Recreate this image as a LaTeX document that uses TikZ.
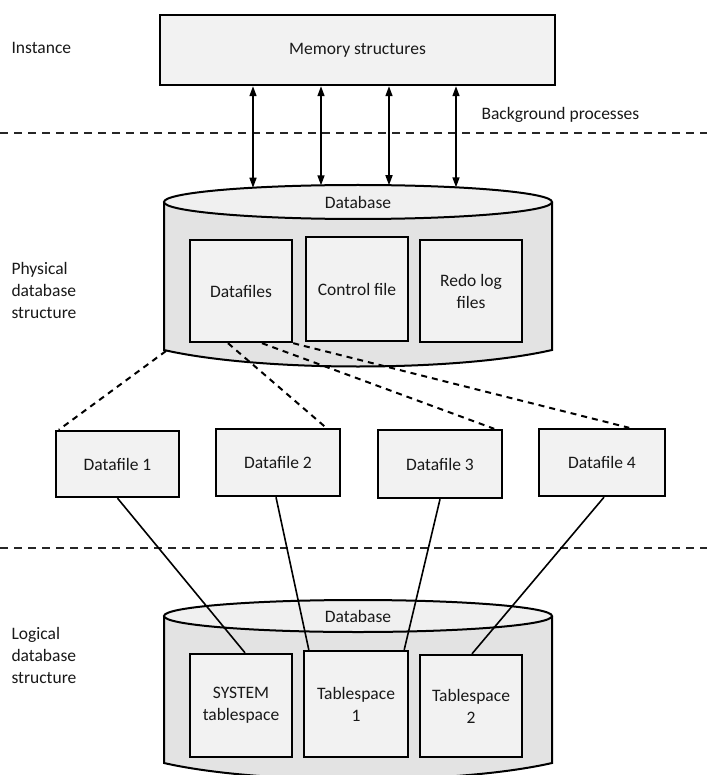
\documentclass[tikz,border=0pt]{standalone}
\usepackage{fontspec}
\setmainfont{Carlito}
\usetikzlibrary{arrows.meta,calc}
\begin{document}
\begin{tikzpicture}[x=1pt,y=-1pt,
  every node/.style={font=\fontsize{17.5}{22}\selectfont, text=black!90},
  box/.style={draw=black, line width=2.4pt, fill=gray!10, align=center, inner sep=0pt},
  dbbody/.style={fill=gray!22},
  dbline/.style={draw=black, line width=2pt},
  dbtop/.style={draw=black, line width=2pt, fill=gray!12},
  sep/.style={line width=2.6pt, dash pattern=on 8pt off 6pt, black!85},
  link/.style={line width=2pt, dash pattern=on 6pt off 5pt},
  tie/.style={line width=1.6pt},
  bio/.style={line width=1.6pt, {Triangle[length=10pt,width=7pt]}-{Triangle[length=10pt,width=7pt]}},
  sidelabel/.style={anchor=west, align=left}
]
\useasboundingbox (0,0) rectangle (707,775);
\clip (0,0) rectangle (707,775);
\fill[white] (0,0) rectangle (707,775);

% layer separators
\draw[sep] (0,133) -- (707,133);
\draw[sep] (0,548) -- (707,548);

% side labels
\node[sidelabel] (linst) at (8,48) {Instance};
\node[sidelabel] (lphys) at (8,290) {Physical\\database\\structure};
\node[sidelabel] (llog) at (8,655) {Logical\\database\\structure};
\node[sidelabel] (lbg) at (478,115) {Background processes};

% instance
\node[box, minimum width=395pt, minimum height=70pt] (mem) at (357.5,50) {Memory structures};

% physical database cylinder
\fill[dbbody] (164,202) -- (164,350) .. controls (260,372) and (456,372) .. (552,350) -- (552,202) -- cycle;
\draw[dbline] (164,202) -- (164,350) .. controls (260,372) and (456,372) .. (552,350) -- (552,202);
\draw[dbtop] (358,202) ellipse [x radius=194pt, y radius=17pt];
\node (db1) at (358,202) {Database};

\coordinate (p1) at (253,187.7);
\coordinate (p2) at (321,185.3);
\coordinate (p3) at (389,185.2);
\coordinate (p4) at (456,187.3);
\foreach \p in {p1,p2,p3,p4}
  \draw[bio] (mem.south -| \p) -- (\p);

\node[box, minimum width=102pt, minimum height=102pt] (dfs) at (241,291) {Datafiles};
\node[box, minimum width=102pt, minimum height=104pt] (ctl) at (357,289) {Control file};
\node[box, minimum width=102pt, minimum height=102pt] (redo) at (471,291) {Redo log\\files};

% datafiles
\node[box, minimum width=123pt, minimum height=66pt] (df1) at (117.5,464) {Datafile 1};
\node[box, minimum width=124pt, minimum height=67pt] (df2) at (278,462.5) {Datafile 2};
\node[box, minimum width=124pt, minimum height=68pt] (df3) at (440,464) {Datafile 3};
\node[box, minimum width=126pt, minimum height=67pt] (df4) at (602,462.5) {Datafile 4};

\coordinate (c1) at (166,351);
\draw[link] (c1) -- ($(df1.north west)+(4,0)$);
\draw[link] ($(dfs.south)+(-13,0)$) -- ($(df2.north east)+(-15,0)$);
\draw[link] ($(dfs.south)+(21,0)$) -- ($(df3.north east)+(-9,0)$);
\draw[link] (dfs.south east) -- ($(df4.north east)+(-37,0)$);

% logical database cylinder
\fill[dbbody] (164,616) -- (164,763) .. controls (260,785) and (456,785) .. (552,763) -- (552,616) -- cycle;
\draw[dbline] (164,616) -- (164,763) .. controls (260,785) and (456,785) .. (552,763) -- (552,616);
\draw[dbtop] (358,616) ellipse [x radius=194pt, y radius=16pt];
\node (db2) at (358,616) {Database};

\node[box, minimum width=102pt, minimum height=103pt] (sys) at (241,705.5) {SYSTEM\\tablespace};
\node[box, minimum width=104pt, minimum height=106pt] (ts1) at (356,704) {Tablespace\\1};
\node[box, minimum width=102pt, minimum height=102pt] (ts2) at (471,706) {Tablespace\\2};

\draw[tie] (df1.south) -- ($(sys.north)+(4,0)$);
\draw[tie] ($(df2.south)+(-2,0)$) -- ($(ts1.north west)+(6,0)$);
\draw[tie] (df3.south) -- ($(ts1.north east)+(-5,0)$);
\draw[tie] ($(df4.south)+(2,0)$) -- ($(ts2.north)+(1,0)$);
\end{tikzpicture}
\end{document}
